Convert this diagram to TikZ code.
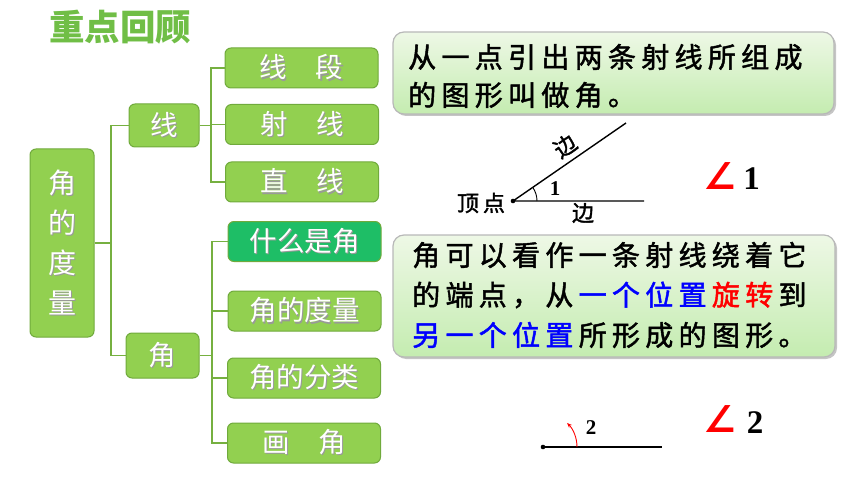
\documentclass[tikz,border=0pt]{standalone}
\usepackage{fontspec}
\usetikzlibrary{shadows,arrows.meta}
\newfontfamily\cjk{Noto Sans CJK SC}
\newfontfamily\cjkm{Noto Sans CJK SC}[RawFeature={embolden=1.6}]
\newfontfamily\symf{DejaVu Sans}
\newfontfamily\tnr{Liberation Serif}
\definecolor{treegreen}{RGB}{146,208,80}
\definecolor{treeborder}{RGB}{112,170,60}
\definecolor{darkgreen}{RGB}{30,190,102}
\definecolor{titlegreen}{RGB}{112,190,70}
\definecolor{linegreen}{RGB}{118,176,64}
\definecolor{boxtop}{RGB}{238,248,230}
\definecolor{boxbot}{RGB}{196,236,176}
\newlength\csp
\setlength\csp{5.3pt}
\def\spc#1{\ifx#1\relax\else#1\hspace{\csp}\expandafter\spc\fi}
\newcommand\shd[1]{\makebox[0pt][l]{\kern1.2pt\raisebox{-1.2pt}{\textcolor{black!40}{#1}}}#1}
\tikzset{
  treebox/.style={draw=treeborder, line width=1pt, fill=treegreen, rounded corners=6pt,
    text=white, inner sep=0pt, font=\cjk\fontsize{27.5}{27.5}\selectfont},
  leafbox/.style={treebox, minimum width=153pt, minimum height=40pt},
  conn/.style={draw=linegreen, line width=1.6pt},
  infobox/.style={draw=black!28, line width=1.2pt, rounded corners=11pt,
    top color=boxtop, bottom color=boxbot,
    drop shadow={shadow xshift=2pt, shadow yshift=-2pt, fill=black!45, opacity=0.5}},
  infotext/.style={anchor=west, inner sep=0pt, font=\cjkm\fontsize{28}{28}\selectfont},
  cjklbl/.style={inner sep=0pt, font=\cjkm\fontsize{22}{22}\selectfont},
  numlbl/.style={inner sep=0pt, font=\tnr\bfseries\fontsize{21}{21}\selectfont},
  bignum/.style={inner sep=0pt, font=\tnr\bfseries\fontsize{33}{33}\selectfont},
  angsym/.style={inner sep=0pt, text=red, font=\symf\bfseries\fontsize{37}{37}\selectfont},
}
\begin{document}
\begin{tikzpicture}[x=1pt,y=-1pt]
\useasboundingbox (0,0) rectangle (860,484);
% title
\node[inner sep=0pt, text=titlegreen, font=\cjk\bfseries\fontsize{35.5}{35.5}\selectfont] (title) at (120,27) {重点回顾};
% tree
\node[treebox, minimum width=64pt, minimum height=188pt, align=center,
  font=\cjk\fontsize{28}{40}\selectfont] (root) at (62,243) {\shd{角}\\\shd{的}\\\shd{度}\\\shd{量}};
\node[treebox, minimum width=70pt, minimum height=43pt] (xian) at (164,125.5) {\shd{线}};
\node[treebox, minimum width=73pt, minimum height=45pt] (jiao) at (162.5,355.5) {\shd{角}};
\node[leafbox] (c1) at (301.5,68) {\shd{线}\hspace{1.05em}\shd{段}};
\node[leafbox] (c2) at (302,124.5) {\shd{射}\hspace{1.05em}\shd{线}};
\node[leafbox] (c3) at (302,182) {\shd{直}\hspace{1.05em}\shd{线}};
\node[leafbox, fill=darkgreen] (d1) at (304.5,241.5) {\shd{什么是角}};
\node[leafbox] (d2) at (304.5,311) {\shd{角的度量}};
\node[leafbox] (d3) at (304,378) {\shd{角的分类}};
\node[leafbox] (d4) at (304,443) {\shd{画}\hspace{1.05em}\shd{角}};
\coordinate (j1) at (111,243);
\coordinate (j2) at (211,125.5);
\coordinate (j3) at (212,355.5);
\draw[conn] (root.east) -- (j1);
\draw[conn] (xian.west) -| (j1) |- (jiao.west);
\draw[conn] (xian.east) -- (j2);
\draw[conn] (c1.west) -| (j2) |- (c3.west);
\draw[conn] (c2.west) -- (c2.west -| j2);
\draw[conn] (jiao.east) -- (j3);
\draw[conn] (d1.west) -| (j3) |- (d4.west);
\draw[conn] (d2.west) -- (d2.west -| j3);
\draw[conn] (d3.west) -- (d3.west -| j3);
% info box 1
\node[infobox, minimum width=441pt, minimum height=82pt] (b1) at (613.5,73) {};
\node[infotext] (t1a) at (408,57) {\spc 从一点引出两条射线所组成\relax};
\node[infotext] (t1b) at (408,95) {\spc 的图形叫做角。\relax};
% info box 2
\node[infobox, minimum width=442pt, minimum height=122pt] (b2) at (614,296) {};
\node[infotext] (t2a) at (412,255) {\spc 角可以看作一条射线绕着它\relax};
\node[infotext] (t2b) at (412,295) {\spc 的端点，从\relax{\color{blue}\spc 一个位置\relax}{\color{red}\spc 旋转\relax}\spc 到\relax};
\node[infotext] (t2c) at (412,335) {{\color{blue}\spc 另一个位置\relax}\spc 所形成的图形。\relax};
% angle 1
\coordinate (v1) at (513,201);
\coordinate (e1) at (644,201);
\coordinate (e2) at (626,123);
\draw[line width=1.4pt] (e2) -- (v1) -- (e1);
\fill (v1) circle[radius=2.3pt];
\draw[line width=0.9pt] ([xshift=24pt]v1) arc[start angle=0, end angle=34.6, radius=24pt];
\node[numlbl] (n1) at (555,189) {1};
\node[cjklbl, rotate=34.6] (bian1) at (565,146) {边};
\node[cjklbl] (bian2) at (583,213) {边};
\node[cjklbl] (ding) at (481,203) {顶\hspace{4pt}点};
\node[angsym] (a1) at (720,176.5) {∠};
\node[bignum] (a1n) at (751.5,179) {1};
% angle 2
\coordinate (v2) at (543,447);
\coordinate (f1) at (662,447);
\draw[line width=1.4pt] (v2) -- (f1);
\fill (v2) circle[radius=2.3pt];
\draw[red, line width=0.9pt, -{Stealth[length=5pt,width=4pt]}] ([xshift=34pt]v2) arc[start angle=0, end angle=45, radius=34pt];
\node[numlbl] (n2) at (591,428) {2};
\node[angsym] (a2) at (720,419.5) {∠};
\node[bignum] (a2n) at (755,423) {2};
\end{tikzpicture}
\end{document}
